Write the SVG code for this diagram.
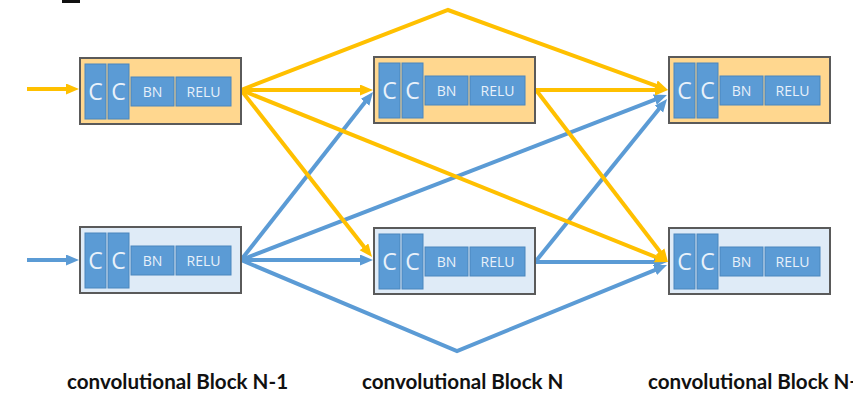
<svg xmlns="http://www.w3.org/2000/svg" width="853" height="393" viewBox="0 0 853 393">
  <style>
    .outer { stroke: #5a5a5a; stroke-width: 2; }
    .orange { fill: #ffd78f; }
    .lblue { fill: #dfebf7; }
    .cell { fill: #5b9bd5; stroke: #4a86bd; stroke-width: 1; }
    .t { fill: #e9f1fa; font-family: "Open Sans", "Noto Sans", sans-serif; text-anchor: middle; }
    .tc { font-size: 23px; }
    .ts { font-size: 14px; }
    .yl { stroke: #ffc000; stroke-width: 4; fill: none; marker-end: url(#ay); }
    .bl { stroke: #5b9bd5; stroke-width: 4; fill: none; marker-end: url(#ab); }
    .cap { font-family: "Lato", "Liberation Sans", sans-serif; font-weight: bold; font-size: 20.6px; fill: #111; }
  </style>
  <defs>
    <marker id="ay" markerUnits="userSpaceOnUse" markerWidth="14" markerHeight="12" refX="5" refY="5.5" orient="auto">
      <path d="M0,0 L13,5.5 L0,11 z" fill="#ffc000"/>
    </marker>
    <marker id="ab" markerUnits="userSpaceOnUse" markerWidth="14" markerHeight="12" refX="5" refY="5.5" orient="auto">
      <path d="M0,0 L13,5.5 L0,11 z" fill="#5b9bd5"/>
    </marker>
    <!-- one convolutional unit: C, C, BN, RELU -->
    <g id="unit">
      <rect class="cell" x="5" y="6" width="21" height="55"/>
      <rect class="cell" x="28" y="6" width="21" height="55"/>
      <rect class="cell" x="51" y="19" width="43" height="29"/>
      <rect class="cell" x="96" y="19" width="55" height="29"/>
      <text class="t tc" x="15.5" y="41.5">C</text>
      <text class="t tc" x="38.5" y="41.5">C</text>
      <text class="t ts" x="72.5" y="38.5">BN</text>
      <text class="t ts" x="123.5" y="38.5">RELU</text>
    </g>
  </defs>

  <rect x="62" y="0" width="18" height="3" fill="#111"/>

  <g id="connectors">
    <!-- blue paths -->
    <line class="bl" x1="27" y1="260" x2="71" y2="260"/>
    <line class="bl" x1="241" y1="260" x2="368.1" y2="98.3"/>
    <line class="bl" x1="241" y1="260" x2="659.5" y2="97.9"/>
    <line class="bl" x1="241" y1="260" x2="365" y2="260"/>
    <polyline class="bl" points="241,260 457,351 659.6,268.1"/>
    <line class="bl" x1="536" y1="261" x2="662" y2="105.2"/>
    <line class="bl" x1="536" y1="262" x2="659" y2="262"/>
    <!-- yellow paths -->
    <line class="yl" x1="27" y1="89" x2="71" y2="89"/>
    <line class="yl" x1="241" y1="90" x2="365" y2="90"/>
    <polyline class="yl" points="241,90 448,10 660.5,87.3"/>
    <line class="yl" x1="241" y1="90" x2="367.1" y2="250.7"/>
    <line class="yl" x1="241" y1="90" x2="660.6" y2="259"/>
    <line class="yl" x1="536" y1="90" x2="660" y2="90"/>
    <line class="yl" x1="536" y1="90" x2="663.1" y2="255.7"/>
  </g>

  <g id="block-n-1-top">
    <rect class="outer orange" x="80" y="58" width="161" height="66"/>
    <use href="#unit" x="80" y="58"/>
  </g>
  <g id="block-n-1-bottom">
    <rect class="outer lblue" x="80" y="227" width="161" height="66"/>
    <use href="#unit" x="80" y="227"/>
  </g>
  <g id="block-n-top">
    <rect class="outer orange" x="374" y="57" width="161" height="66"/>
    <use href="#unit" x="374" y="57"/>
  </g>
  <g id="block-n-bottom">
    <rect class="outer lblue" x="374" y="228" width="161" height="66"/>
    <use href="#unit" x="374" y="228"/>
  </g>
  <g id="block-n+1-top">
    <rect class="outer orange" x="669" y="57" width="161" height="66"/>
    <use href="#unit" x="669" y="57"/>
  </g>
  <g id="block-n+1-bottom">
    <rect class="outer lblue" x="669" y="228" width="161" height="66"/>
    <use href="#unit" x="669" y="228"/>
  </g>

  <g id="captions">
    <text class="cap" x="67" y="389">convolutional Block N-1</text>
    <text class="cap" x="362" y="389">convolutional Block N</text>
    <text class="cap" x="648" y="389">convolutional Block N+1</text>
  </g>
</svg>
